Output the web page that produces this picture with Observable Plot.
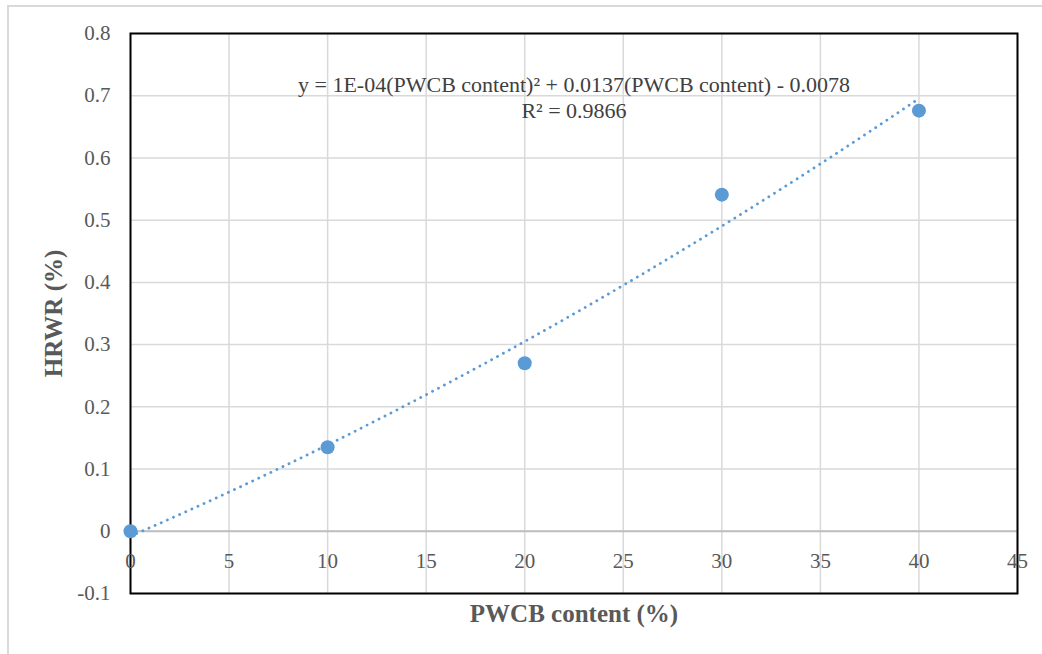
<!DOCTYPE html>
<html>
<head>
<meta charset="utf-8">
<script src="https://cdn.jsdelivr.net/npm/d3@7"></script>
<script src="https://cdn.jsdelivr.net/npm/@observablehq/plot@0.6"></script>
<style>
  body { margin: 0; background: #fff; }
  #wrap { position: relative; width: 1042px; height: 654px; overflow: hidden; }
  #border { position: absolute; left: 7px; top: 5px; width: 1100px; height: 700px; border: 2px solid #d9d9d9; box-sizing: border-box; pointer-events: none; }
  #chart svg, #chart svg text { font-family: "Liberation Serif", "Times New Roman", serif !important; }
</style>
</head>
<body>
<div id="wrap"><div id="border"></div><div id="chart"></div></div>
<script>
const pwcb = [0, 10, 20, 30, 40];
const hrwr = [0, 0.135, 0.27, 0.541, 0.676];
const xTicks = [0, 5, 10, 15, 20, 25, 30, 35, 40, 45];
const yTicks = [-0.1, 0, 0.1, 0.2, 0.3, 0.4, 0.5, 0.6, 0.7, 0.8];
const eqLine1 = "y = 1E-04(PWCB content)² + 0.0137(PWCB content) - 0.0078";
const eqLine2 = "R² = 0.9866";
const xTitle = "PWCB content (%)";
const yTitle = "HRWR (%)";

const points = pwcb.map((x, i) => ({x, y: hrwr[i]}));

// Quadratic least-squares trendline fitted to the data (as Excel does)
function polyfit2(xs, ys) {
  const S = k => d3.sum(xs, x => x ** k);
  const T = k => d3.sum(xs, (x, i) => x ** k * ys[i]);
  const A = [[S(4), S(3), S(2)], [S(3), S(2), S(1)], [S(2), S(1), xs.length]];
  const b = [T(2), T(1), T(0)];
  const n = 3;
  for (let i = 0; i < n; i++) {
    for (let j = i + 1; j < n; j++) {
      const f = A[j][i] / A[i][i];
      for (let k = i; k < n; k++) A[j][k] -= f * A[i][k];
      b[j] -= f * b[i];
    }
  }
  const c = [0, 0, 0];
  for (let i = n - 1; i >= 0; i--) {
    let s = b[i];
    for (let k = i + 1; k < n; k++) s -= A[i][k] * c[k];
    c[i] = s / A[i][i];
  }
  return c;
}
const [qa, qb, qc] = polyfit2(pwcb, hrwr);
const trend = d3.range(0, 40.001, 0.5).map(x => ({x, y: qa * x * x + qb * x + qc}));

const font = "'Liberation Serif', 'Times New Roman', serif";
const grey = "#595959";
const blue = "#5B9BD5";

const chart = Plot.plot({
  width: 1042,
  height: 654,
  marginLeft: 130,
  marginRight: 25,
  marginTop: 33,
  marginBottom: 61,
  style: {fontFamily: font, background: "transparent", overflow: "visible"},
  x: {domain: [0, 45]},
  y: {domain: [-0.1, 0.8]},
  marks: [
    Plot.gridX(xTicks, {stroke: "#d9d9d9", strokeOpacity: 1, strokeWidth: 1.5}),
    Plot.gridY(yTicks, {stroke: "#d9d9d9", strokeOpacity: 1, strokeWidth: 1.5}),
    Plot.ruleY([0], {stroke: "#bfbfbf", strokeWidth: 2}),
    Plot.frame({stroke: "black", strokeWidth: 2}),
    Plot.axisY(yTicks, {tickSize: 0, tickPadding: 20, fontSize: 21, fill: grey, label: null,
      fontVariant: "normal", tickFormat: d => String(+d.toFixed(1))}),
    Plot.axisX([], {label: null, tickSize: 0}),
    Plot.text(xTicks, {x: d => d, y: () => 0, dy: 30, text: d => String(d), fontSize: 21, fill: grey}),
    Plot.line(trend, {x: "x", y: "y", stroke: blue, strokeWidth: 2.8, strokeDasharray: "0.1,6.6", strokeLinecap: "round"}),
    Plot.dot(points, {x: "x", y: "y", r: 7, fill: blue, stroke: null}),
    Plot.text([eqLine1], {text: d => d, frameAnchor: "top", lineAnchor: "middle", dy: 51, fontSize: 22, fill: "#404040"}),
    Plot.text([eqLine2], {text: d => d, frameAnchor: "top", lineAnchor: "middle", dy: 77, fontSize: 22, fill: "#404040"}),
    Plot.text([xTitle], {text: d => d, frameAnchor: "bottom", lineAnchor: "middle", dy: 20, fontSize: 25, fontWeight: "bold", fill: grey}),
    Plot.text([yTitle], {text: d => d, frameAnchor: "left", textAnchor: "middle", lineAnchor: "middle", dx: -77, rotate: -90, fontSize: 25, fontWeight: "bold", fill: grey})
  ]
});
document.getElementById("chart").appendChild(chart);
</script>
</body>
</html>
